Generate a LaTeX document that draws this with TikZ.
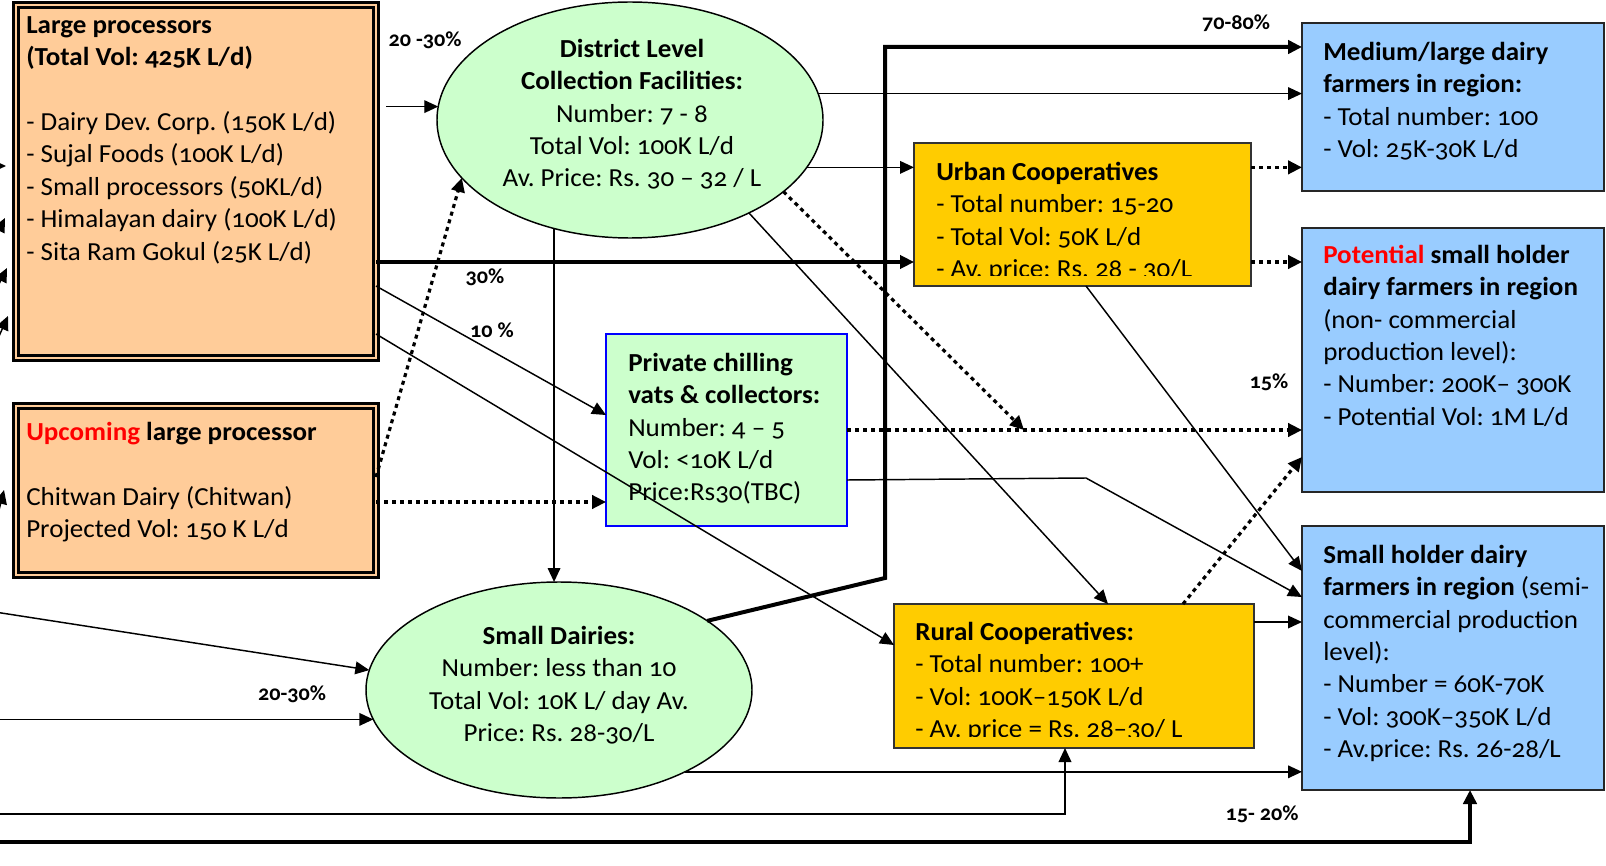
\documentclass[tikz,border=0pt]{standalone}
\usepackage{fontspec}
\setmainfont{Carlito}[Numbers=OldStyle, FakeStretch=1.04]
\usetikzlibrary{arrows.meta,calc,shapes.geometric}
\definecolor{peach}{HTML}{FFCC99}
\definecolor{mint}{HTML}{CCFFCC}
\definecolor{gold}{HTML}{FFCC00}
\definecolor{sky}{HTML}{99CCFF}
\newcommand\bodyfont{\frenchspacing\fontsize{19.5pt}{24.3pt}\selectfont}
\newcommand\pctfont{\fontsize{16pt}{19pt}\selectfont\bfseries}
\begin{document}
\begin{tikzpicture}[x=0.75pt,y=-0.75pt,
 procbox/.style={draw=black, line width=2.2pt, double=peach, double distance=1.5pt, fill=peach, inner sep=0pt, outer sep=0pt},
 coopbox/.style={draw=black!80, line width=1.2pt, fill=gold, inner sep=0pt, outer sep=0pt},
 farmbox/.style={draw=black!85, line width=1.6pt, fill=sky, inner sep=0pt, outer sep=0pt},
 chillbox/.style={draw=blue, line width=1.2pt, fill=mint, inner sep=0pt, outer sep=0pt},
 collect/.style={ellipse, draw=black, line width=1.1pt, fill=mint, inner sep=0pt, outer sep=0pt},
 txt/.style={anchor=north west, inner sep=0pt, align=left, font=\bodyfont},
 ctxt/.style={anchor=north, inner sep=0pt, align=center, font=\bodyfont},
 pct/.style={inner sep=0pt, font=\pctfont},
 flow/.style={line width=1.1pt, -{Triangle[length=10.5pt,width=9.5pt]}},
 heavy/.style={line width=3pt, -{Triangle[length=10.5pt,width=10pt]}},
 dots/.style={line width=2.4pt, dash pattern=on 3pt off 3pt, -{Triangle[length=10.5pt,width=10pt]}},
]
\useasboundingbox (0,0) rectangle (1606,866);
\clip (0,0) rectangle (1606,866);

% shapes
\node[procbox, minimum width=270pt, minimum height=264.75pt] (LP) at (196,181.5) {};
\node[procbox, minimum width=270pt, minimum height=126.75pt] (UP) at (196,490.5) {};
\node[collect, minimum width=289.5pt, minimum height=177pt] (DL) at (630,120) {};
\node[coopbox, minimum width=252.75pt, minimum height=107.25pt] (UC) at (1082.5,214.5) {};
\node[farmbox, minimum width=226.5pt, minimum height=126pt] (ML) at (1453,107) {};
\node[farmbox, minimum width=226.5pt, minimum height=198pt] (PT) at (1453,360) {};
\node[farmbox, minimum width=226.5pt, minimum height=198pt] (SH) at (1453,658) {};
\node[chillbox, minimum width=180.75pt, minimum height=144pt] (PC) at (726.5,430) {};
\node[collect, minimum width=289.5pt, minimum height=162pt] (SD) at (559,690) {};
\node[coopbox, minimum width=270pt, minimum height=108pt] (RC) at (1074,676) {};

% texts
\node[txt] (LPt) at (26,10.3) {\strut\textbf{Large processors}\\\textbf{(Total Vol: 425K L/d)}\\[24.3pt]- Dairy Dev. Corp. (150K L/d)\\- Sujal Foods (100K L/d)\\- Small processors (50KL/d)\\- Himalayan dairy (100K L/d)\\- Sita Ram Gokul (25K L/d)};
\node[txt] (UPt) at (26,417.3) {\strut\textbf{\textcolor{red}{Upcoming} large processor}\\[24.3pt]Chitwan Dairy (Chitwan)\\Projected Vol: 150 K L/d};
\node[ctxt] (DLt) at (632,34.3) {\strut\textbf{District Level}\\\textbf{Collection Facilities:}\\Number: 7 - 8\\Total Vol: 100K L/d\\Av. Price: Rs. 30 -- 32 / L};
\begin{scope}
\clip (UC.north west) rectangle (UC.east |- 0,276);
\node[txt] (UCt) at (936,157.3) {\strut\textbf{Urban Cooperatives}\\- Total number: 15-20\\- Total Vol: 50K L/d\\- Av. price: Rs. 28 - 30/L};
\end{scope}
\node[txt] (MLt) at (1323,37.3) {\strut\textbf{Medium/large dairy}\\\textbf{farmers in region:}\\- Total number: 100\\- Vol: 25K-30K L/d};
\node[txt] (PTt) at (1323,240.3) {\strut\textbf{\textcolor{red}{Potential} small holder}\\\textbf{dairy farmers in region}\\(non- commercial\\production level):\\- Number: 200K-- 300K\\- Potential Vol: 1M L/d};
\node[txt] (SHt) at (1323,540.3) {\strut\textbf{Small holder dairy}\\\textbf{farmers in region} (semi-\\commercial production\\level):\\- Number = 60K-70K\\- Vol: 300K--350K L/d\\- Av.price: Rs. 26-28/L};
\node[txt] (PCt) at (628,348.3) {\strut\textbf{Private chilling}\\\textbf{vats \& collectors:}\\Number: 4 -- 5\\Vol: <10K L/d\\Price:Rs30(TBC)};
\node[ctxt] (SDt) at (559,621.3) {\strut\textbf{Small Dairies:}\\Number: less than 10\\Total Vol: 10K L/ day Av.\\Price: Rs. 28-30/L};
\begin{scope}
\clip (RC.north west) rectangle (RC.east |- 0,736);
\node[txt] (RCt) at (915,617.3) {\strut\textbf{Rural Cooperatives:}\\- Total number: 100+\\- Vol: 100K--150K L/d\\- Av. price = Rs. 28--30/ L};
\end{scope}

% connectors
\draw[flow] ($(LP.east |- DL.176)+(10,0)$) -- (DL.176);
\draw[heavy, line width=2.3pt] (LP.east |- 0,262) -- (UC.west |- 0,262);
\draw[flow] (LP.east |- 0,286) -- (PC.west |- 0,415);
\draw[flow] (LP.east |- 0,334) -- (RC.west |- 0,645);
\draw[dots] (UP.east |- 0,477) -- (DL.199.7);
\draw[dots] (UP.east |- 0,502) -- (PC.west |- 0,502);
\draw[flow] (DL.8) -- (ML.west |- DL.8);
\draw[flow] (DL.345.5) -- (UC.west |- DL.345.5);
\coordinate (bendA) at (885,578);
\coordinate (bendB) at (885,47);
\draw[heavy] (SD.25) -- (bendA) -- (bendB) -- (ML.west |- bendB);
\draw[flow] (DL.235.8) -- (DL.235.8 |- SD.north);
\draw[flow] (DL.322) -- (RC.north -| 1108,0);
\coordinate (meet) at (1024,430);
\draw[dots] (DL.335.7) -- (meet);
\draw[dots] (PC.east |- meet) -- (PT.west |- meet);
\coordinate (bendC) at (1086,478);
\draw[flow] (PC.east |- 0,480) -- (bendC) -- (SH.west |- 0,597);
\draw[flow] (UC.south -| bendC) -- (SH.west |- 0,571);
\draw[dots] (UC.east |- DL.345.5) -- (ML.west |- DL.345.5);
\draw[dots] (UC.east |- 0,262) -- (PT.west |- 0,262);
\draw[dots] (RC.north -| 1183,0) -- (PT.west |- 0,457);
\draw[flow] (RC.east |- 0,622) -- (SH.west |- 0,622);
\draw[flow] (SD.327) -- (SH.west |- SD.327);
\coordinate (srcA) at (-5,612);
\coordinate (srcB) at (-5,0);
\draw[flow] (srcA) -- (SD.174);
\draw[flow] (srcB |- SD.189) -- (SD.189);
\draw[flow] (-5,814) -| (RC.south -| 1065,0);
\draw[heavy, line width=3.5pt] (-5,842) -| (SH.south -| 1470,0);
% partial arrows at left edge
\draw[flow] (-30,166) -- ($(LP.west |- 0,166)+(-10,0)$);
\draw[flow] (-12,252) -- ($(LP.west |- 0,218)+(-11,0)$);
\draw[flow] (-10,302) -- ($(LP.west |- 0,268)+(-9,0)$);
\draw[flow] (-8,352) -- ($(LP.west |- 0,316)+(-8,0)$);
\draw[flow] (-6,530) -- ($(UP.west |- 0,490)+(-12,0)$);

% labels
\node[pct] (p1) at (425,40) {20 -30\%};
\node[pct] (p2) at (485,277) {30\%};
\node[pct] (p3) at (492,330) {10 \%};
\node[pct] (p4) at (1236,23) {70-80\%};
\node[pct] (p5) at (1269,382) {15\%};
\node[pct] (p6) at (292,694) {20-30\%};
\node[pct] (p7) at (1262,814) {15- 20\%};
\end{tikzpicture}
\end{document}
